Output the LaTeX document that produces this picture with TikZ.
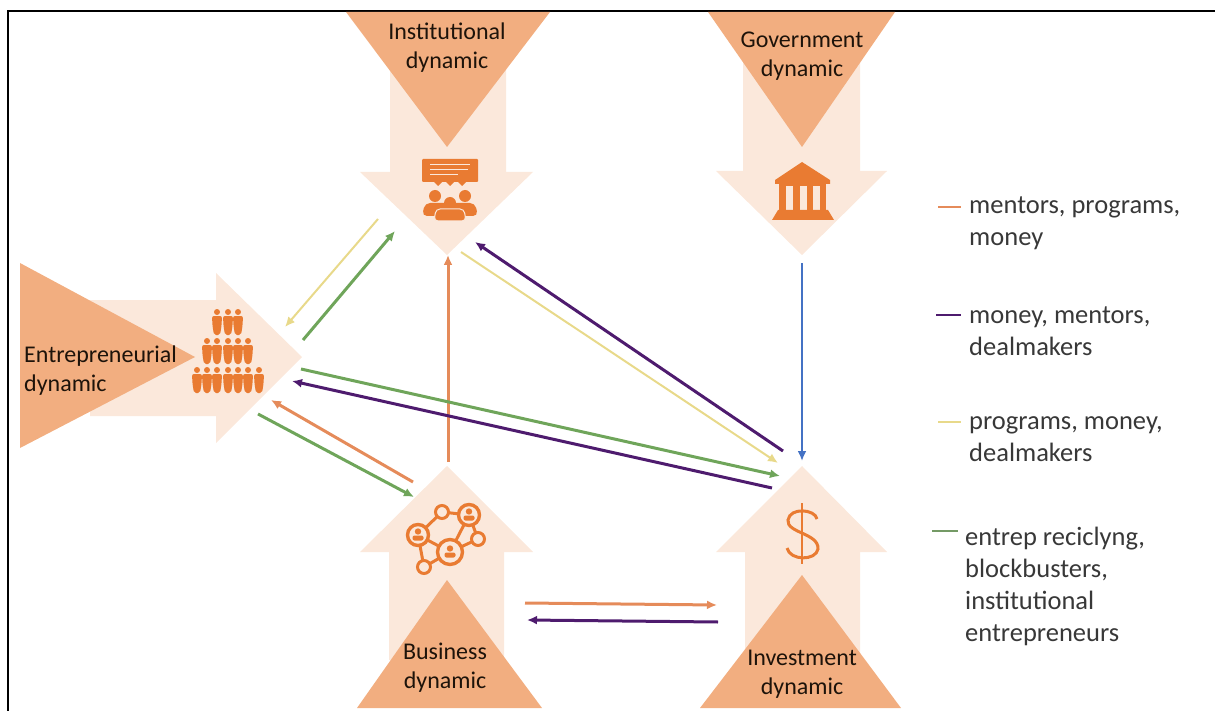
\documentclass[tikz,border=0pt]{standalone}
\usepackage{fontspec}
\setmainfont{Carlito}
\usetikzlibrary{arrows.meta}
\definecolor{lightpeach}{HTML}{FBE8DB}
\definecolor{midpeach}{HTML}{F2AE80}
\definecolor{iconorange}{HTML}{E97B32}
\definecolor{flowgreen}{HTML}{6FA55A}
\definecolor{flowpurple}{HTML}{4E1B6E}
\definecolor{flowyellow}{HTML}{E8D98A}
\definecolor{floworange}{HTML}{E58B5A}
\definecolor{flowblue}{HTML}{4472C4}
\tikzset{
  body/.style={fill=lightpeach},
  wedge/.style={fill=midpeach},
  dyn/.style={font=\fontsize{24}{29}\selectfont, text=black!85!brown, align=center, inner sep=0pt},
  key/.style={font=\fontsize{26.5}{32}\selectfont, text=black!78, align=left, anchor=west, inner sep=0pt},
  flow/.style={line width=3pt},
  thin flow/.style={line width=2pt},
  mark line/.style={line width=2.6pt},
  netlink/.style={iconorange, line width=3pt},
  netbig/.style={circle, draw=iconorange, fill=lightpeach, line width=3.4pt, minimum size=21pt, inner sep=0pt},
  netsmall/.style={circle, draw=iconorange, fill=lightpeach, line width=3pt, minimum size=13pt, inner sep=0pt},
  figure/.pic={
    \fill[iconorange] (0,-10) circle (3);
    \fill[iconorange, rounded corners=2pt] (-5,-6) -- (5,-6) -- (4.5,4) -- (3,13) -- (-3,13) -- (-4.5,4) -- cycle;
  },
  bust/.pic={
    \fill[iconorange] (0,-3.5) circle (3.2);
    \fill[iconorange, rounded corners=2pt] (-5.5,5.5) -- (-5.5,0.5) -- (5.5,0.5) -- (5.5,5.5) -- cycle;
  }
}
\begin{document}
\begin{tikzpicture}[x=1pt,y=-1pt,>={Latex[length=10pt,width=9pt]}]
\useasboundingbox (0,0) rectangle (1215,711);
\draw[line width=2.4pt] (8,711) -- (8,11) -- (1215,11);

% big arrows
\fill[body] (390,60) -- (506,60) -- (506,172) -- (533,172) -- (447,255) -- (360,172) -- (390,172) -- cycle;
\fill[body] (743,60) -- (860,60) -- (860,171) -- (887,171) -- (802,255) -- (716,171) -- (743,171) -- cycle;
\fill[body] (90,300) -- (216,300) -- (216,273) -- (302,357) -- (216,443) -- (216,416) -- (90,416) -- cycle;
\fill[body] (389,660) -- (389,552) -- (360,552) -- (447,466) -- (533,552) -- (504,552) -- (504,660) -- cycle;
\fill[body] (745,660) -- (745,552) -- (716,552) -- (802,466) -- (887,552) -- (860,552) -- (860,660) -- cycle;

\fill[wedge] (346,12) -- (550,12) -- (447,147) -- cycle;
\fill[wedge] (708,12) -- (895,12) -- (802,147) -- cycle;
\fill[wedge] (20,263) -- (195,357) -- (20,448) -- cycle;
\fill[wedge] (447,580) -- (542,708) -- (357,708) -- cycle;
\fill[wedge] (802,575) -- (901,708) -- (700,708) -- cycle;

\node[dyn] (inst) at (447,48) {Institutional\\dynamic};
\node[dyn] (gov)  at (802,56) {Government\\dynamic};
\node[dyn, align=left, anchor=west] (entr) at (24,371) {Entrepreneurial\\dynamic};
\node[dyn] (bus)  at (445,668) {Business\\dynamic};
\node[dyn] (inv)  at (802,674) {Investment\\dynamic};

% icon: meeting
\fill[iconorange, rounded corners=1pt] (422,159) rectangle (478,182);
\draw[lightpeach, line width=1pt] (430,165) -- (470,165);
\draw[lightpeach, line width=1pt] (430,170) -- (468,170);
\draw[lightpeach, line width=1pt] (430,175) -- (458,175);
\fill[iconorange] (434,182) -- (442,182) -- (438,186) -- cycle;
\fill[iconorange] (446,182) -- (454,182) -- (450,186) -- cycle;
\fill[iconorange] (458,182) -- (466,182) -- (462,186) -- cycle;
\fill[iconorange] (435,196) circle (6);
\fill[iconorange] (465,196) circle (6);
\fill[iconorange] (450,203) circle (6);
\fill[iconorange, rounded corners=5pt] (422,216) -- (425,203) -- (445,203) -- (455,203) -- (475,203) -- (478,216) -- cycle;
\fill[iconorange, rounded corners=4pt, draw=lightpeach, line width=1pt] (434,221) -- (436,209) -- (464,209) -- (466,221) -- cycle;

% icon: bank
\fill[iconorange] (802,162) -- (830,180) -- (830,184) -- (775,184) -- (775,180) -- cycle;
\fill[iconorange] (779,184) rectangle (826,212);
\fill[lightpeach] (786,186) rectangle (793,210);
\fill[lightpeach] (799.5,186) rectangle (806.5,210);
\fill[lightpeach] (813,186) rectangle (820,210);
\fill[iconorange] (778,210) -- (828,210) -- (834,220) -- (772,220) -- cycle;

% icon: people pyramid
\pic at (217,322) {figure};
\pic at (228,322) {figure};
\pic at (238,322) {figure};
\pic at (207,351) {figure};
\pic at (217,351) {figure};
\pic at (228,351) {figure};
\pic at (238,351) {figure};
\pic at (248,351) {figure};
\pic at (197,380) {figure};
\pic at (207,380) {figure};
\pic at (217,380) {figure};
\pic at (228,380) {figure};
\pic at (238,380) {figure};
\pic at (248,380) {figure};
\pic at (259,380) {figure};

% icon: network
\draw[netlink] (418,535) -- (442,512);
\draw[netlink] (442,512) -- (469,515);
\draw[netlink] (418,535) -- (450,552);
\draw[netlink] (469,515) -- (450,552);
\draw[netlink] (478,539) -- (450,552);
\draw[netlink] (469,515) -- (478,539);
\draw[netlink] (418,535) -- (424,567);
\draw[netlink] (424,567) -- (450,552);
\node[netbig] (n1) at (418,535) {};
\node[netbig, minimum size=25pt] (n2) at (450,552) {};
\node[netbig] (n3) at (469,515) {};
\node[netsmall] (n4) at (442,512) {};
\node[netsmall] (n5) at (478,539) {};
\node[netsmall] (n6) at (424,567) {};
\pic at (418,535) {bust};
\pic at (450,552) {bust};
\pic at (469,515) {bust};

% icon: dollar
\draw[iconorange, line width=3pt] (817,519) .. controls (815,509) and (790,507) .. (788,520) .. controls (786,533) and (819,533) .. (818,549) .. controls (816,561) and (790,561) .. (787,548);
\draw[iconorange, line width=2.6pt] (802,503) -- (802,564);

% flows
\coordinate (a1) at (378,219);  \coordinate (a2) at (285,327);
\coordinate (b1) at (303,340);  \coordinate (b2) at (395,231);
\coordinate (c1) at (783,451);  \coordinate (c2) at (475,242);
\coordinate (d1) at (461,252);  \coordinate (d2) at (778,463);
\coordinate (e1) at (448,462);  \coordinate (e2) at (448,255);
\coordinate (f1) at (802,263);  \coordinate (f2) at (802,461);
\coordinate (g1) at (301,369);  \coordinate (g2) at (780,476);
\coordinate (h1) at (772,488);  \coordinate (h2) at (292,381);
\coordinate (i1) at (413,482);  \coordinate (i2) at (271,400);
\coordinate (j1) at (258,414);  \coordinate (j2) at (414,497);
\coordinate (k1) at (525,603);  \coordinate (k2) at (717,605);
\coordinate (l1) at (718,622);  \coordinate (l2) at (527,620);

\draw[->, thin flow, flowyellow] (a1) -- (a2);
\draw[->, flow, flowgreen] (b1) -- (b2);
\draw[->, flow, flowpurple] (c1) -- (c2);
\draw[->, thin flow, flowyellow] (d1) -- (d2);
\draw[->, flow, floworange] (e1) -- (e2);
\draw[->, thin flow, flowblue] (f1) -- (f2);
\draw[->, flow, flowgreen] (g1) -- (g2);
\draw[->, flow, flowpurple] (h1) -- (h2);
\draw[->, flow, floworange] (i1) -- (i2);
\draw[->, flow, flowgreen] (j1) -- (j2);
\draw[->, flow, floworange] (k1) -- (k2);
\draw[->, flow, flowpurple] (l1) -- (l2);

% legend
\node[key] (k_or) at (969,223) {mentors, programs,\\money};
\node[key] (k_pu) at (969,331) {money, mentors,\\dealmakers};
\node[key] (k_ye) at (969,439) {programs, money,\\dealmakers};
\node[key] (k_gr) at (965,586) {entrep reciclyng,\\blockbusters,\\institutional\\entrepreneurs};

\coordinate (m1) at (938,207);  \coordinate (m2) at (961,207);
\coordinate (m3) at (936,315);  \coordinate (m4) at (961,315);
\coordinate (m5) at (938,422);  \coordinate (m6) at (961,422);
\coordinate (m7) at (932,531);  \coordinate (m8) at (958,531);
\draw[mark line, floworange] (m1) -- (m2);
\draw[mark line, flowpurple] (m3) -- (m4);
\draw[mark line, flowyellow] (m5) -- (m6);
\draw[mark line, flowgreen!70!gray] (m7) -- (m8);
\end{tikzpicture}
\end{document}
